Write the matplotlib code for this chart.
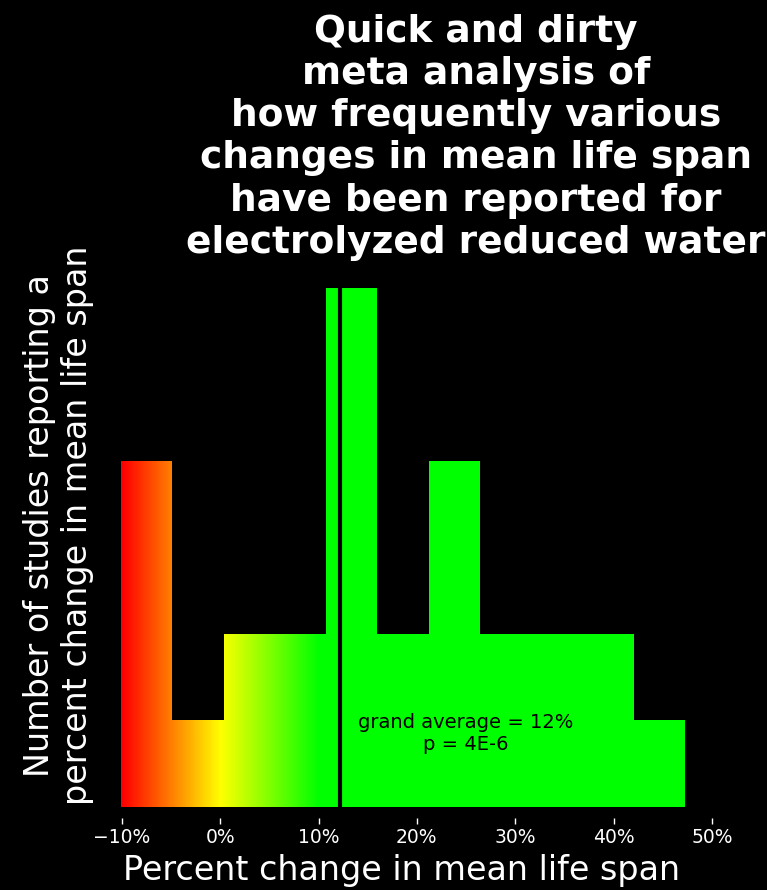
import numpy as np
import matplotlib
matplotlib.use('Agg')
import matplotlib.pyplot as plt
from matplotlib.colors import LinearSegmentedColormap
from matplotlib.path import Path
from matplotlib.patches import PathPatch

# histogram of reported changes (equal-width bins between min and max)
counts = [4, 1, 2, 2, 6, 2, 4, 2, 2, 2, 1]
range_lo, range_hi = -10.1, 47.3
grand_avg = 12.2
tick_vals = [-10, 0, 10, 20, 30, 40, 50]
tick_labels = ['\u221210%', '0%', '10%', '20%', '30%', '40%', '50%']
title = ('Quick and dirty\nmeta analysis of\nhow frequently various\n'
         'changes in mean life span\nhave been reported for\nelectrolyzed reduced water')
note = 'grand average = 12%\np = 4E-6'

edges = np.linspace(range_lo, range_hi, len(counts) + 1)
widths = np.diff(edges)

fig = plt.figure(figsize=(7.67, 8.9), dpi=100, facecolor='black')
ax = fig.add_axes([0.1525, 0.0809, 0.782, 0.6003], facecolor='black')

bars = ax.bar(edges[:-1], counts, width=widths, align='edge',
              color='none', edgecolor='none')

# red -> yellow -> green gradient along x, clipped to the bars
cmap = LinearSegmentedColormap.from_list('ryg', ['#ff0000', '#ffff00', '#00ff00'])
xs = np.linspace(range_lo, range_hi, 800)[None, :]
im = ax.imshow(xs, cmap=cmap, vmin=-10, vmax=10, aspect='auto',
               extent=[range_lo, range_hi, 0, max(counts)],
               interpolation='bilinear', origin='lower', zorder=1)
paths = [b.get_path().transformed(b.get_patch_transform()) for b in bars]
clip = PathPatch(Path.make_compound_path(*paths), transform=ax.transData,
                 facecolor='none', edgecolor='none')
ax.add_patch(clip)
im.set_clip_path(clip)

ax.axvline(grand_avg, color='black', lw=3, zorder=2)
ax.text(25, 0.85, note, ha='center', va='center', fontsize=14,
        color='black', zorder=3)

ax.set_xlim(-10.5, 50.5)
ax.set_ylim(-0.13, 6.05)
for s in ax.spines.values():
    s.set_visible(False)
ax.set_yticks([])
ax.set_xticks(tick_vals)
ax.set_xticklabels(tick_labels, fontsize=13.5, color='white')
ax.tick_params(axis='x', colors='white', length=4, width=1)

ax.set_xlabel('Percent change in mean life span', fontsize=24, color='white')
ax.xaxis.set_label_coords(0.475, -0.098)
ax.xaxis.label.set_va('center')
ax.set_ylabel('Number of studies reporting a\npercent change in mean life span',
              fontsize=24, color='white')
ax.yaxis.set_label_coords(-0.098, 0.548)
ax.yaxis.label.set_va('center')

fig.text(476 / 767, 1 - 14 / 890, title, ha='center', va='top',
         fontsize=27, fontweight='bold', color='white', linespacing=1.22)

fig.savefig('out.png', dpi=100, facecolor='black')
